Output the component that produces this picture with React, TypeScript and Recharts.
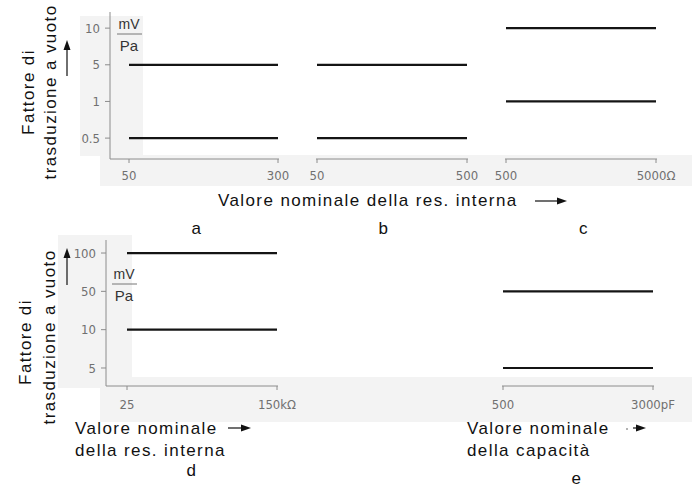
import React from 'react';
import { LineChart, Line, XAxis, YAxis } from 'recharts';

const W = 692;
const H = 487;

// ordinal y tick values (evenly spaced in the figure)
const topYTicks = [0.5, 1, 5, 10];
const bottomYTicks = [5, 10, 50, 100];

// panel x endpoints and levels
const aX = [50, 300];
const aLevels = [5, 0.5];
const aTickLabels = ['50', '300'];

const bX = [50, 500];
const bLevels = [5, 0.5];
const bTickLabels = ['50', '500'];

const cX = [500, 5000];
const cLevels = [10, 1];
const cTickLabels = ['500', '5000Ω'];

const dX = [25, 150];
const dLevels = [100, 10];
const dTickLabels = ['25', '150kΩ'];

const eX = [500, 3000];
const eLevels = [50, 5];
const eTickLabels = ['500', '3000pF'];

const SANS = '"Liberation Sans", Arial, Helvetica, sans-serif';
const NARROW = '"Liberation Sans Narrow", "DejaVu Sans Condensed", "Liberation Sans", sans-serif';
const AXIS = '#8c8c8c';
const TICKTXT = '#707070';

type Rect = { left: number; right: number; top: number; bottom: number };

function Panel(props: {
  xs: number[];
  levels: number[];
  yTicks: number[];
  xLabels: string[];
  plot: Rect;
  yDomain: [number, number];
  showY: boolean;
  tickGap: number;
  xPad: { left: number; right: number };
}) {
  const { xs, levels, yTicks, xLabels, plot, yDomain, showY, tickGap, xPad } = props;
  const data = xs.map((x) => ({
    x,
    hi: yTicks.indexOf(levels[0]),
    lo: yTicks.indexOf(levels[1]),
  }));
  const yAxisW = showY ? 60 : 0;
  const xAxisH = 40;
  const margin = {
    top: plot.top,
    left: plot.left - yAxisW,
    right: W - plot.right,
    bottom: H - plot.bottom - xAxisH,
  };
  return (
    <div style={{ position: 'absolute', left: 0, top: 0 }}>
      <LineChart width={W} height={H} data={data} margin={margin}>
        <XAxis
          dataKey="x"
          type="number"
          domain={[xs[0], xs[1]]}
          ticks={xs}
          interval={0}
          allowDataOverflow
          tickFormatter={(v: number) => xLabels[xs.indexOf(v)]}
          padding={xPad}
          stroke={AXIS}
          tickLine={{ stroke: AXIS }}
          tickSize={4}
          tickMargin={tickGap}
          height={xAxisH}
          tick={{ fill: TICKTXT, fontSize: 13, fontFamily: NARROW }}
        />
        <YAxis
          hide={!showY}
          type="number"
          domain={yDomain}
          allowDataOverflow
          ticks={[0, 1, 2, 3]}
          interval={0}
          tickFormatter={(v: number) => String(yTicks[v])}
          width={yAxisW}
          stroke={AXIS}
          tickLine={{ stroke: AXIS }}
          tickSize={5}
          tickMargin={5}
          tick={{ fill: TICKTXT, fontSize: 13, fontFamily: NARROW }}
        />
        <Line dataKey="hi" type="linear" stroke="#141414" strokeWidth={2.2} dot={false} isAnimationActive={false} />
        <Line dataKey="lo" type="linear" stroke="#141414" strokeWidth={2.2} dot={false} isAnimationActive={false} />
      </LineChart>
    </div>
  );
}

function UpArrow({ x, y1, y2 }: { x: number; y1: number; y2: number }) {
  return (
    <g>
      <line x1={x} y1={y2} x2={x} y2={y1 + 6} stroke="#222" strokeWidth={1.3} />
      <path d={`M${x - 3.5},${y1 + 10} L${x},${y1} L${x + 3.5},${y1 + 10} Z`} fill="#111" />
    </g>
  );
}

function RightArrow({ x1, x2, y }: { x1: number; x2: number; y: number }) {
  return (
    <g>
      <line x1={x1} y1={y} x2={x2 - 6} y2={y} stroke="#222" strokeWidth={1.3} />
      <path d={`M${x2 - 10},${y - 3.5} L${x2},${y} L${x2 - 10},${y + 3.5} Z`} fill="#111" />
    </g>
  );
}

function Unit({ cx, y }: { cx: number; y: number }) {
  return (
    <g fontFamily={SANS} fill="#333" fontSize={14}>
      <text x={cx} y={y} textAnchor="middle">mV</text>
      <line x1={cx - 12} y1={y + 5} x2={cx + 13} y2={y + 5} stroke="#777" strokeWidth={1} />
      <text x={cx} y={y + 22} textAnchor="middle" fontSize={15}>Pa</text>
    </g>
  );
}

const txt = { fontFamily: SANS, fontSize: 17, letterSpacing: 1.4, fill: '#111' } as const;

export default function App() {
  const bg = '#f3f3f3';
  return (
    <div style={{ position: 'absolute', left: 0, top: 0, width: W, height: H, background: '#fff', overflow: 'hidden' }}>
      {/* scan background patches */}
      <div style={{ position: 'absolute', left: 80, top: 16, width: 63, height: 140, background: bg }} />
      <div style={{ position: 'absolute', left: 100, top: 155, width: 592, height: 31, background: bg }} />
      <div style={{ position: 'absolute', left: 58, top: 235, width: 74, height: 153, background: bg }} />
      <div style={{ position: 'absolute', left: 100, top: 377, width: 592, height: 45, background: bg }} />

      <Panel xs={aX} levels={aLevels} yTicks={topYTicks} xLabels={aTickLabels}
        plot={{ left: 110, right: 279, top: 12, bottom: 159 }} yDomain={[-0.57, 3.44]} showY tickGap={8}
        xPad={{ left: 19, right: 1 }} />
      <Panel xs={bX} levels={bLevels} yTicks={topYTicks} xLabels={bTickLabels}
        plot={{ left: 316, right: 468, top: 12, bottom: 159 }} yDomain={[-0.57, 3.44]} showY={false} tickGap={8}
        xPad={{ left: 1, right: 1 }} />
      <Panel xs={cX} levels={cLevels} yTicks={topYTicks} xLabels={cTickLabels}
        plot={{ left: 505, right: 657, top: 12, bottom: 159 }} yDomain={[-0.57, 3.44]} showY={false} tickGap={8}
        xPad={{ left: 1, right: 1 }} />
      <Panel xs={dX} levels={dLevels} yTicks={bottomYTicks} xLabels={dTickLabels}
        plot={{ left: 106, right: 278, top: 240, bottom: 386 }} yDomain={[-0.47, 3.34]} showY tickGap={10}
        xPad={{ left: 21, right: 1 }} />
      <Panel xs={eX} levels={eLevels} yTicks={bottomYTicks} xLabels={eTickLabels}
        plot={{ left: 502, right: 654, top: 240, bottom: 386 }} yDomain={[-0.47, 3.34]} showY={false} tickGap={10}
        xPad={{ left: 1, right: 1 }} />

      <svg width={W} height={H} style={{ position: 'absolute', left: 0, top: 0, pointerEvents: 'none' }}>
        {/* top row */}
        <text {...txt} transform="translate(34,92) rotate(-90)" textAnchor="middle">Fattore di</text>
        <text {...txt} transform="translate(56,92) rotate(-90)" textAnchor="middle">trasduzione a vuoto</text>
        <UpArrow x={67} y1={40} y2={76} />
        <Unit cx={129} y={29} />
        <text {...txt} x={218} y={206}>Valore nominale della res. interna</text>
        <RightArrow x1={535} x2={567} y={201} />
        <text {...txt} x={197} y={234} textAnchor="middle">a</text>
        <text {...txt} x={384} y={234} textAnchor="middle">b</text>
        <text {...txt} x={584} y={234} textAnchor="middle">c</text>

        {/* bottom row */}
        <text {...txt} transform="translate(31,342) rotate(-90)" textAnchor="middle">Fattore di</text>
        <text {...txt} transform="translate(55,337) rotate(-90)" textAnchor="middle">trasduzione a vuoto</text>
        <UpArrow x={67} y1={248} y2={285} />
        <Unit cx={124} y={279} />
        <text {...txt} x={75} y={434}>Valore nominale</text>
        <RightArrow x1={228} x2={251} y={428} />
        <text {...txt} x={75} y={456}>della res. interna</text>
        <text {...txt} x={192} y={476} textAnchor="middle">d</text>

        <text {...txt} x={467} y={434}>Valore nominale</text>
        <circle cx={627} cy={429} r={1} fill="#999" />
        <RightArrow x1={633} x2={646} y={428} />
        <text {...txt} x={467} y={456}>della capacità</text>
        <text {...txt} x={577} y={484} textAnchor="middle">e</text>
      </svg>
    </div>
  );
}
